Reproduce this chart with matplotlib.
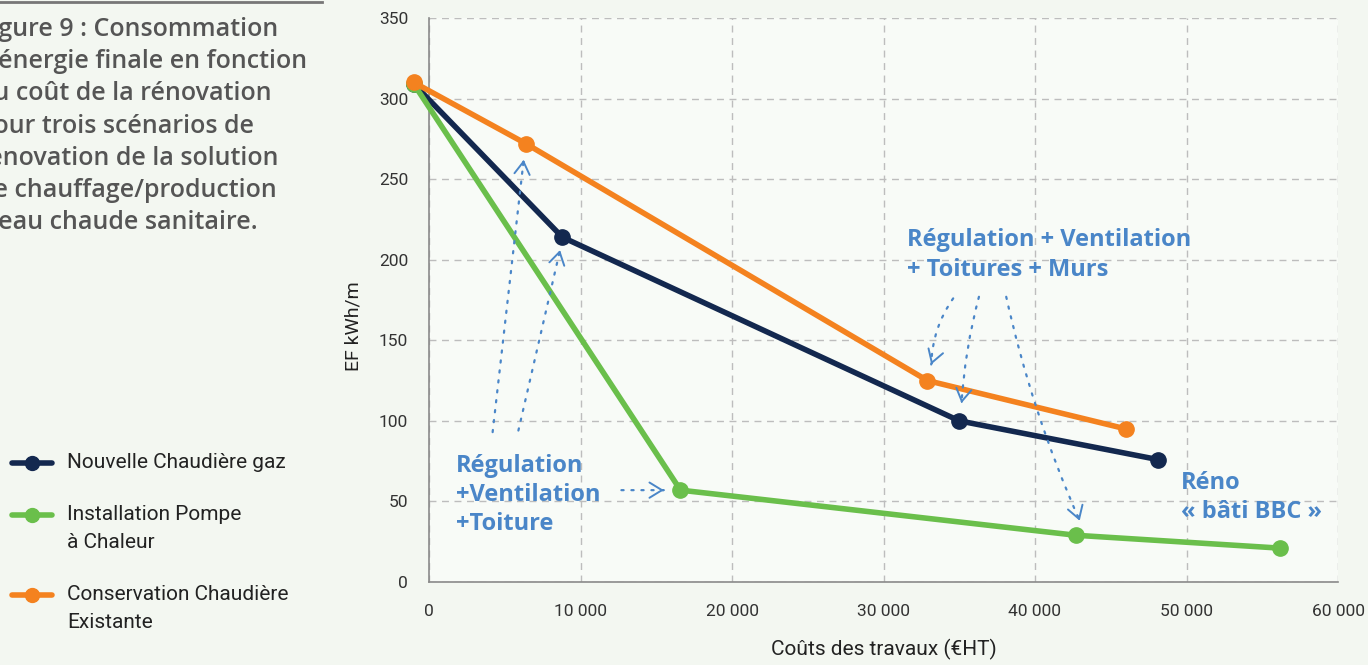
import numpy as np
import matplotlib
matplotlib.use("Agg")
import matplotlib.pyplot as plt
from matplotlib.ticker import FuncFormatter
from matplotlib.lines import Line2D

# ==========================================
# DATA
# ==========================================
cout_gaz = [-1000, 8800, 35000, 48100]
ef_gaz = [309, 214, 100, 76]

cout_pac = [-1000, 16600, 42700, 56200]
ef_pac = [309, 57, 29, 21]

cout_cons = [-1000, 6400, 32900, 46000]
ef_cons = [310, 272, 125, 95]

labels = ["Nouvelle Chaudière gaz",
          "Installation Pompe\nà Chaleur",
          "Conservation Chaudière\nExistante"]
colors = ["#13284f", "#6abf4b", "#f4821f"]

x_ticks = [0, 10000, 20000, 30000, 40000, 50000, 60000]
y_ticks = [0, 50, 100, 150, 200, 250, 300, 350]

caption = ("Figure 9 : Consommation\nd'énergie finale en fonction\ndu coût de la rénovation\n"
           "pour trois scénarios de\nrénovation de la solution\nde chauffage/production\n"
           "d'eau chaude sanitaire.")

BLUE = "#4a86c8"
BG = "#f3f7f1"
W, H = 1368, 665

plt.rcParams['font.family'] = ['Roboto', 'DejaVu Sans']

fig = plt.figure(figsize=(W / 100, H / 100), dpi=100, facecolor=BG)
ax = fig.add_axes([429 / W, 1 - 582 / H, 909 / W, 564 / H])
ax.set_facecolor("#f8fbf7")

for xs, ys, lab, c in zip([cout_gaz, cout_pac, cout_cons], [ef_gaz, ef_pac, ef_cons], labels, colors):
    ax.plot(xs, ys, color=c, lw=4, marker='o', ms=11, label=lab,
            clip_on=False, solid_capstyle='round', zorder=3)

ax.set_xlim(0, 60000)
ax.set_ylim(0, 350)
ax.set_xticks(x_ticks)
ax.set_yticks(y_ticks)
ax.xaxis.set_major_formatter(FuncFormatter(lambda v, p: f"{int(v):,}".replace(",", " ")))
ax.tick_params(length=0, labelsize=12.5, colors="#333333", pad=16)
ax.tick_params(axis='y', pad=15)
ax.grid(True, linestyle=(0, (5, 4)), color="#bdbdbd", lw=1)
ax.set_axisbelow(True)
for s in ["top", "right"]:
    ax.spines[s].set_visible(False)
for s in ["left", "bottom"]:
    ax.spines[s].set_color("#8a8a8a")
    ax.spines[s].set_linewidth(1.2)

ax.set_xlabel("Coûts des travaux (€HT)", fontsize=15, color="#222222", labelpad=14)
ax.set_ylabel("EF kWh/m", fontsize=14, color="#222222")
ax.yaxis.set_label_coords(-0.073, 0.454)

# annotations
ann_font = dict(family=['Open Sans', 'DejaVu Sans'], fontweight='bold', fontsize=17, color=BLUE)
ax.text(1780, 54, "Régulation\n+Ventilation\n+Toiture", va='center', ha='left',
        linespacing=1.3, **ann_font)
ax.text(31550, 203, "Régulation + Ventilation\n+ Toitures + Murs", va='center', ha='left',
        linespacing=1.3, **ann_font)
ax.text(49640, 52.5, "Réno\n« bâti BBC »", va='center', ha='left',
        linespacing=1.25, **ann_font)

arrows = [((4200, 93), (6250, 262), 0.0),
          ((5900, 94), (8650, 206), 0.0),
          ((12700, 57), (15500, 57), 0.0),
          ((34600, 176), (33150, 135), 0.15),
          ((36300, 177), (35150, 111), 0.05),
          ((38100, 177), (42950, 38), 0.05)]
for (x0, y0), (x1, y1), rad in arrows:
    ax.annotate("", xy=(x1, y1), xytext=(x0, y0),
                arrowprops=dict(arrowstyle='-', color=BLUE, lw=1.6,
                                linestyle=(0, (1, 3.5)),
                                connectionstyle=f"arc3,rad={rad}",
                                shrinkA=0, shrinkB=0))
    d = np.array([x1 - x0, y1 - y0], dtype=float)
    ax.annotate("", xy=(x1, y1), xytext=(x1 - d[0] * 0.02, y1 - d[1] * 0.02),
                arrowprops=dict(arrowstyle='->,head_length=0.9,head_width=0.55',
                                color=BLUE, lw=1.4, shrinkA=0, shrinkB=0))

# caption at top left (cut by figure edge as in the source)
fig.add_artist(Line2D([0, 322 / W], [0.997, 0.997], color="#777777", lw=2))
fig.text(-22 / W, 1 - 17 / H, caption, ha='left', va='top', fontsize=18,
         fontweight='semibold', color="#555555", linespacing=1.38,
         family=['Open Sans', 'DejaVu Sans'])

# legend drawn by hand so the handle sits on the first text line
leg_rows = [[463], [515, 543], [595, 623]]
for lab, c, ys in zip(labels, colors, leg_rows):
    yf = 1 - ys[0] / H
    fig.add_artist(Line2D([12 / W, 32 / W, 52 / W], [yf, yf, yf], color=c, lw=4,
                          marker='o', ms=10, markevery=[1], solid_capstyle='round'))
    for part, y in zip(lab.split("\n"), ys):
        fig.text(67 / W, 1 - y / H, part, ha='left', va='center', fontsize=15, color="#222222")

plt.savefig("out.png", dpi=100, facecolor=BG)
